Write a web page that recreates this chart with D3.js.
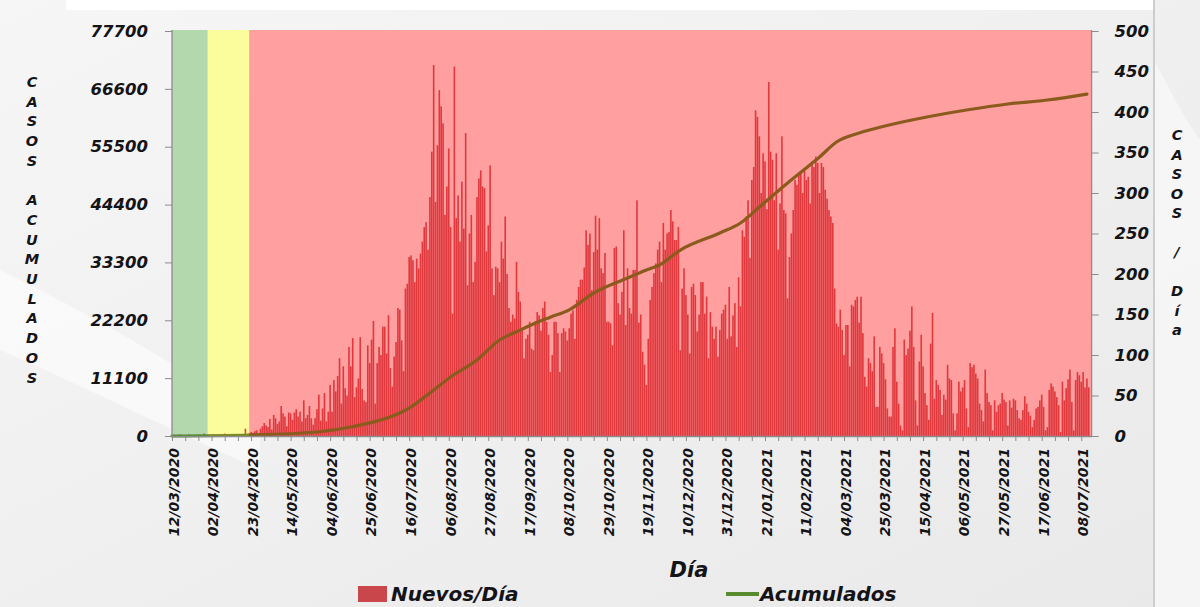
<!DOCTYPE html>
<html>
<head>
<meta charset="utf-8">
<script src="https://cdn.jsdelivr.net/npm/d3@7"></script>
<style>
  body { margin: 0; background: #efefef; }
  text { font-family: "DejaVu Sans", Verdana, sans-serif; font-weight: bold; font-style: italic; fill: #141418; }
</style>
</head>
<body>
<div id="chart"></div>
<script>
// ---- data ----
const startDate = "2020-03-12";

// new cases per day, one value per day from 12/03/2020
const nuevos = [
  1,0,1,0,2,1,0, 0,1,2,1,0,1,1, 2,0,1,3,1,0,2,
  1,2,0,1,2,1,0, 3,1,2,0,1,2,1, 2,1,0,2,9,1,3,
  5,4,6,7,3,9,12, 16,13,11,21,8,26,22, 15,18,37,28,24,12,29,
  28,20,29,33,24,30,18, 44,22,26,37,22,14,22, 33,51,19,34,53,18,30,
  63,30,69,55,74,96,40,86, 59,50,110,86,121,48,60, 71,122,58,44,42,112,90,
  119,142,40,90,110,100,135, 135,102,149,84,61,98,116, 158,156,118,80,182,188,221,
  223,217,190,219,207,225,240, 258,264,230,295,351,458,289, 359,427,407,386,273,308,355,
  258,151,456,269,297,240,314, 256,374,186,250,273,190,215, 295,318,328,308,306,228,260,
  334,207,174,209,207,190,240, 219,271,200,158,141,150,145, 215,178,166,133,96,120,125,
  141,108,106,141,153,149,130, 158,166,141,125,79,100,141, 141,127,79,127,133,129,118,
  133,151,155,120,168,184,193, 193,208,254,236,250,180,227, 272,230,269,207,201,226,141,
  141,139,112,232,234,164,150, 178,254,137,207,158,151,205, 205,291,140,150,104,88,63,120,
  168,184,201,213,230,240,190, 263,230,250,252,279,265,242, 242,258,106,182,207,174,150,
  102,184,188,174,129,150,190, 190,151,172,96,153,135,120, 135,98,131,151,156,162,120,
  184,123,149,164,110,196,160, 254,246,271,291,220,316,332, 402,394,370,300,349,339,280,
  437,351,341,291,349,230,287, 370,279,275,170,221,250,279, 316,310,324,326,300,328,316,
  320,287,339,332,345,337,300, 337,332,304,293,279,271,263, 182,139,135,156,131,100,137,
  137,86,162,160,168,172,140, 172,127,73,61,96,90,80, 123,36,36,110,102,90,70,
  34,24,24,110,133,67,40, 13,7,119,100,108,130,160, 110,44,13,92,125,86,53,
  38,20,114,152,46,69,63, 57,26,51,45,88,71,69,28, 7,28,67,55,60,69,34,
  11,90,85,88,77,71,40, 32,18,82,53,42,38,7, 44,30,38,40,53,45,42,
  13,44,35,46,44,32,22, 20,32,49,40,30,25,11, 20,34,36,44,51,36,7,
  11,57,65,61,55,48,38, 5,67,44,59,70,82,42, 7,69,79,75,67,79,60,
  71,60
];

// accumulated cases (left axis)
const acumFechas = [
  "2020-03-12","2020-04-22","2020-05-28","2020-06-15","2020-07-11","2020-07-16",
  "2020-07-27","2020-08-07","2020-08-21","2020-09-02","2020-09-11","2020-09-20",
  "2020-09-29","2020-10-09","2020-10-22","2020-11-09","2020-11-19","2020-11-26",
  "2020-12-07","2020-12-28","2021-01-08","2021-01-18","2021-02-02","2021-02-19",
  "2021-02-28","2021-03-12","2021-03-28","2021-04-17","2021-05-08","2021-05-30",
  "2021-06-20","2021-07-11"
];
const acumValores = [
  0, 190, 770, 1730, 4410, 5370,
  8250, 11320, 14580, 18420, 20000, 21500,
  22800, 24200, 27430, 30310, 31850, 32810,
  35680, 38950, 40860, 43930, 48540, 53530,
  56400, 58130, 59670, 61200, 62540, 63700,
  64460, 65600
];

// phase backgrounds start dates (green, yellow, red)
const faseInicio = ["2020-03-12", "2020-03-31", "2020-04-22"];
const ejeFin = "2021-07-13T12:00:00Z";

const leftTicks = [0, 11100, 22200, 33300, 44400, 55500, 66600, 77700];
const rightTicks = [0, 50, 100, 150, 200, 250, 300, 350, 400, 450, 500];
const xTickLabels = [
  "12/03/2020","02/04/2020","23/04/2020","14/05/2020","04/06/2020","25/06/2020",
  "16/07/2020","06/08/2020","27/08/2020","17/09/2020","08/10/2020","29/10/2020",
  "19/11/2020","10/12/2020","31/12/2020","21/01/2021","11/02/2021","04/03/2021",
  "25/03/2021","15/04/2021","06/05/2021","27/05/2021","17/06/2021","08/07/2021"
];
const tituloIzq = "CASOS ACUMULADOS";
const tituloDer = "CASOS / Día";

// ---- layout ----
const W = 1200, H = 607;
const plot = { left: 172, right: 1091.6, top: 30, bottom: 436 };
const faseColores = ["#b3d8ae", "#fbfc9c", "#ff9f9f"];

const parseISO = d3.utcParse("%Y-%m-%d");
const fmtDMY = d3.utcFormat("%d/%m/%Y");
const t0 = parseISO(startDate);

const svg = d3.select("#chart").append("svg")
    .attr("width", W).attr("height", H);

// background (slide look)
const defs = svg.append("defs");
const bg = defs.append("linearGradient").attr("id", "bg")
    .attr("x1", 0).attr("y1", 0).attr("x2", 1).attr("y2", 1);
bg.append("stop").attr("offset", "0%").attr("stop-color", "#f6f6f6");
bg.append("stop").attr("offset", "100%").attr("stop-color", "#e9e9e9");
svg.append("rect").attr("width", W).attr("height", H).attr("fill", "url(#bg)");
svg.append("rect").attr("x", 66).attr("y", 0).attr("width", 1088).attr("height", 10).attr("fill", "#ffffff");
svg.append("path")
    .attr("d", "M0,270 C60,300 140,340 260,420 L260,470 C150,420 70,380 0,350 Z")
    .attr("fill", "#ffffff").attr("opacity", 0.55);
svg.append("path")
    .attr("d", "M1154,60 C1170,90 1185,120 1200,140 L1200,607 L1154,607 Z")
    .attr("fill", "#f8f8f8").attr("opacity", 0.8);
svg.append("line").attr("x1", 1154).attr("x2", 1154).attr("y1", 0).attr("y2", H)
    .attr("stroke", "#cdcdcd").attr("stroke-width", 2);

// scales
const x = d3.scaleUtc()
    .domain([t0, new Date(ejeFin)])
    .range([plot.left, plot.right]);
const yL = d3.scaleLinear().domain([0, 77700]).range([plot.bottom, 31]);
const yR = d3.scaleLinear().domain([0, 500]).range([plot.bottom, 31]);

// phase bands
const fases = faseInicio.map((s, i) => ({
  from: parseISO(s),
  to: i < faseInicio.length - 1 ? parseISO(faseInicio[i + 1]) : new Date(ejeFin),
  color: faseColores[i]
}));
svg.append("g").selectAll("rect")
    .data(fases)
    .enter()
    .append("rect")
    .attr("x", d => x(d.from))
    .attr("y", plot.top)
    .attr("width", d => x(d.to) - x(d.from))
    .attr("height", plot.bottom - plot.top)
    .attr("fill", d => d.color);

// daily bars
const daily = nuevos.map((v, i) => ({ date: d3.utcDay.offset(t0, i), value: v }));
const bw = 1.6;
svg.append("g").selectAll("rect")
    .data(daily)
    .enter()
    .append("rect")
    .attr("x", d => x(d.date) - bw / 2)
    .attr("y", d => yR(d.value))
    .attr("width", bw)
    .attr("height", d => yR(0) - yR(d.value))
    .attr("fill", "#da282d")
    .attr("opacity", 0.86);

// accumulated line
const acum = acumFechas.map((s, i) => ({ date: parseISO(s), value: acumValores[i] }));
const lg = defs.append("linearGradient").attr("id", "lineGrad")
    .attr("gradientUnits", "userSpaceOnUse")
    .attr("x1", plot.left).attr("x2", plot.right).attr("y1", 0).attr("y2", 0);
const span = plot.right - plot.left;
const o1 = (x(fases[1].from) - plot.left) / span;
const o2 = (x(fases[2].from) - plot.left) / span;
[[0, "#4d8a2a"], [o1, "#4d8a2a"], [o1, "#7a8a1e"], [o2, "#7a8a1e"], [o2, "#8b5a1d"], [1, "#8b5a1d"]]
  .forEach(s => lg.append("stop").attr("offset", s[0]).attr("stop-color", s[1]));

svg.append("path")
    .datum(acum)
    .attr("fill", "none")
    .attr("stroke", "url(#lineGrad)")
    .attr("stroke-width", 3.2)
    .attr("stroke-linecap", "round")
    .attr("d", d3.line()
        .x(d => x(d.date))
        .y(d => yL(d.value))
        .curve(d3.curveMonotoneX));

// axes
const labelSet = new Set(xTickLabels);
const weekly = d3.range(0, 489, 7).map(i => d3.utcDay.offset(t0, i));

const xAxis = svg.append("g")
    .attr("transform", `translate(0, ${plot.bottom})`)
    .call(d3.axisBottom(x)
        .tickValues(weekly)
        .tickSize(5)
        .tickSizeOuter(0)
        .tickFormat(d => labelSet.has(fmtDMY(d)) ? fmtDMY(d) : ""));
xAxis.selectAll("text")
    .attr("transform", "rotate(-90)")
    .attr("text-anchor", "end")
    .attr("x", -12)
    .attr("y", 0)
    .attr("dy", "0.45em")
    .style("font-size", "14px");

const yAxisL = svg.append("g")
    .attr("transform", `translate(${plot.left}, 0)`)
    .call(d3.axisLeft(yL).tickValues(leftTicks).tickFormat(d3.format("d"))
        .tickSize(7).tickSizeOuter(0).tickPadding(17));
yAxisL.selectAll("text").style("font-size", "16.5px");

const yAxisR = svg.append("g")
    .attr("transform", `translate(${plot.right}, 0)`)
    .call(d3.axisRight(yR).tickValues(rightTicks).tickFormat(d3.format("d"))
        .tickSize(7).tickSizeOuter(0).tickPadding(16));
yAxisR.selectAll("text").style("font-size", "16.5px");

svg.selectAll(".domain").attr("stroke", "#8c8c8c").attr("stroke-width", 1.3);
svg.selectAll(".tick line").attr("stroke", "#8c8c8c");
svg.selectAll(".tick text").attr("fill", "#141418");
yAxisL.select(".domain").attr("d", `M0,${plot.top}V${plot.bottom}`);
yAxisR.select(".domain").attr("d", `M0,${plot.top}V${plot.bottom}`);

// vertical titles, letter by letter
svg.append("g").selectAll("text")
    .data(tituloIzq.split(""))
    .enter()
    .append("text")
    .attr("x", 32)
    .attr("y", (d, i) => 87 + i * 19.7)
    .attr("text-anchor", "middle")
    .style("font-size", "14.5px")
    .text(d => d);

svg.append("g").selectAll("text")
    .data(tituloDer.split(""))
    .enter()
    .append("text")
    .attr("x", 1177)
    .attr("y", (d, i) => 140 + i * 19.5)
    .attr("text-anchor", "middle")
    .style("font-size", "14.5px")
    .text(d => d);

// x title
svg.append("text")
    .attr("x", 689)
    .attr("y", 577)
    .attr("text-anchor", "middle")
    .style("font-size", "21px")
    .text("Día");

// legend
const legend = svg.append("g");
legend.append("rect")
    .attr("x", 358).attr("y", 586).attr("width", 29).attr("height", 16)
    .attr("fill", "#c9464b");
legend.append("text")
    .attr("x", 391).attr("y", 601)
    .style("font-size", "20px")
    .text("Nuevos/Día");
legend.append("line")
    .attr("x1", 726).attr("x2", 759).attr("y1", 594).attr("y2", 594)
    .attr("stroke", "#5a8a2e").attr("stroke-width", 4);
legend.append("text")
    .attr("x", 760).attr("y", 601)
    .style("font-size", "20px")
    .text("Acumulados");
</script>
</body>
</html>
